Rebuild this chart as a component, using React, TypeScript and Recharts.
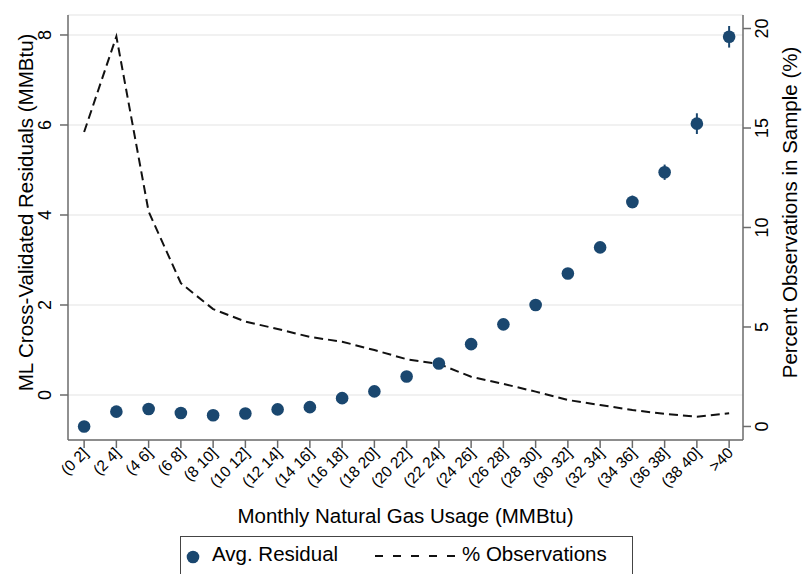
import React from "react";
import {
  ComposedChart,
  Scatter,
  Line,
  XAxis,
  YAxis,
  CartesianGrid,
  ErrorBar,
  Label,
} from "recharts";

// bins of monthly gas usage
const categories = [
  "(0 2]", "(2 4]", "(4 6]", "(6 8]", "(8 10]", "(10 12]", "(12 14]",
  "(14 16]", "(16 18]", "(18 20]", "(20 22]", "(22 24]", "(24 26]",
  "(26 28]", "(28 30]", "(30 32]", "(32 34]", "(34 36]", "(36 38]",
  "(38 40]", ">40",
];

// avg residual (MMBtu), left axis
const avgResidual = [
  -0.7, -0.37, -0.31, -0.4, -0.45, -0.41, -0.32, -0.27, -0.07, 0.08,
  0.41, 0.7, 1.13, 1.57, 2.0, 2.7, 3.28, 4.29, 4.95, 6.03, 7.96,
];

// +/- spread of the residual estimate
const residualErr = [
  0.03, 0.03, 0.03, 0.03, 0.03, 0.03, 0.03, 0.03, 0.04, 0.04,
  0.05, 0.05, 0.06, 0.07, 0.08, 0.09, 0.1, 0.14, 0.17, 0.23, 0.24,
];

// % of observations in each bin, right axis
const pctObs = [
  14.8, 19.6, 10.8, 7.2, 5.9, 5.27, 4.9, 4.5, 4.26, 3.84,
  3.38, 3.14, 2.5, 2.14, 1.75, 1.33, 1.08, 0.83, 0.63, 0.49, 0.66,
];

const leftTicks = [0, 2, 4, 6, 8];
const rightTicks = [0, 5, 10, 15, 20];

const FONT = "'Liberation Sans', Arial, sans-serif";
const NAVY = "#1a476f";
const AXIS = "#6b6b6b";

const data = categories.map((c, i) => ({
  x: i,
  name: c,
  resid: avgResidual[i],
  err: residualErr[i],
  pct: pctObs[i],
}));

const XTick = (props: any) => {
  const { x, y, payload } = props;
  const tx = x + 5;
  const ty = y + 4;
  return (
    <text
      x={tx}
      y={ty}
      textAnchor="end"
      transform={`rotate(-45 ${tx} ${ty})`}
      fontSize={15.5}
      fontFamily={FONT}
      fill="#000"
    >
      {categories[payload.value]}
    </text>
  );
};

const LeftTick = (props: any) => {
  const { x, y, payload } = props;
  const tx = x - 9;
  return (
    <text
      x={tx}
      y={y}
      textAnchor="middle"
      transform={`rotate(-90 ${tx} ${y})`}
      fontSize={18}
      fontFamily={FONT}
      fill="#000"
    >
      {payload.value}
    </text>
  );
};

const RightTick = (props: any) => {
  const { x, y, payload } = props;
  const tx = x + 17;
  return (
    <text
      x={tx}
      y={y}
      textAnchor="middle"
      transform={`rotate(-90 ${tx} ${y})`}
      fontSize={18}
      fontFamily={FONT}
      fill="#000"
    >
      {payload.value}
    </text>
  );
};

const yTitle = (text: string, dx: number) => (props: any) => {
  const vb = props.viewBox;
  const tx = vb.x + dx;
  const ty = vb.y + vb.height / 2 - 15;
  return (
    <text
      x={tx}
      y={ty}
      textAnchor="middle"
      transform={`rotate(-90 ${tx} ${ty})`}
      fontSize={20.5}
      fontFamily={FONT}
      fill="#000"
    >
      {text}
    </text>
  );
};

const xTitle = (props: any) => {
  const vb = props.viewBox;
  return (
    <text
      x={vb.x + vb.width / 2}
      y={vb.y + 83}
      textAnchor="middle"
      fontSize={20.5}
      fontFamily={FONT}
      fill="#000"
    >
      Monthly Natural Gas Usage (MMBtu)
    </text>
  );
};

export default function App() {
  return (
    <div style={{ position: "absolute", left: 0, top: 0, width: 805, height: 574, background: "#fff", overflow: "hidden" }}>
      <ComposedChart
        width={805}
        height={574}
        data={data}
        margin={{ top: 15, right: 0, bottom: 0, left: 0 }}
      >
        <CartesianGrid yAxisId="left" vertical={false} stroke="#ececec" strokeWidth={1.5} />
        <XAxis
          dataKey="x"
          type="number"
          domain={[-0.5, 20.43]}
          ticks={categories.map((_, i) => i)}
          interval={0}
          allowDataOverflow
          height={134}
          tick={<XTick />}
          tickSize={8}
          tickLine={{ stroke: AXIS, strokeWidth: 1.5 }}
          axisLine={{ stroke: AXIS, strokeWidth: 1.5 }}
        >
          <Label content={xTitle} />
        </XAxis>
        <YAxis
          yAxisId="left"
          orientation="left"
          type="number"
          domain={[-1.0, 8.444]}
          ticks={leftTicks}
          allowDataOverflow
          width={68}
          tick={<LeftTick />}
          tickSize={8}
          tickMargin={0}
          tickLine={{ stroke: AXIS, strokeWidth: 1.5 }}
          axisLine={{ stroke: AXIS, strokeWidth: 1.5 }}
        >
          <Label content={yTitle("ML Cross-Validated Residuals (MMBtu)", 33)} />
        </YAxis>
        <YAxis
          yAxisId="right"
          orientation="right"
          type="number"
          domain={[-0.68, 20.68]}
          ticks={rightTicks}
          allowDataOverflow
          width={62}
          tick={<RightTick />}
          tickSize={8}
          tickMargin={0}
          tickLine={{ stroke: AXIS, strokeWidth: 1.5 }}
          axisLine={{ stroke: AXIS, strokeWidth: 1.5 }}
        >
          <Label content={yTitle("Percent Observations in Sample (%)", 54)} />
        </YAxis>

        <Line
          yAxisId="right"
          dataKey="pct"
          type="linear"
          stroke="#111"
          strokeWidth={2}
          strokeDasharray="9 5"
          dot={false}
          activeDot={false}
          isAnimationActive={false}
        />
        <Scatter
          yAxisId="left"
          dataKey="resid"
          fill={NAVY}
          isAnimationActive={false}
          shape={(p: any) => <circle cx={p.cx} cy={p.cy} r={6.3} fill={NAVY} />}
        >
          <ErrorBar dataKey="err" direction="y" width={0} stroke={NAVY} strokeWidth={2} />
        </Scatter>
      </ComposedChart>

      {/* legend box, runs off the bottom like the original */}
      <div
        style={{
          position: "absolute",
          left: 180,
          top: 536,
          width: 453,
          height: 60,
          boxSizing: "border-box",
          border: "1.5px solid #444",
          background: "#fff",
        }}
      >
        <svg width={450} height={40} style={{ position: "absolute", left: 0, top: 0 }}>
          <circle cx={12} cy={20} r={6.3} fill={NAVY} />
          <text x={31} y={24} fontSize={20.5} fontFamily={FONT} fill="#000">
            Avg. Residual
          </text>
          <line x1={194} x2={276} y1={19} y2={19} stroke="#111" strokeWidth={2} strokeDasharray="8 10" />
          <text x={281} y={24} fontSize={20.5} fontFamily={FONT} fill="#000">
            % Observations
          </text>
        </svg>
      </div>
    </div>
  );
}
